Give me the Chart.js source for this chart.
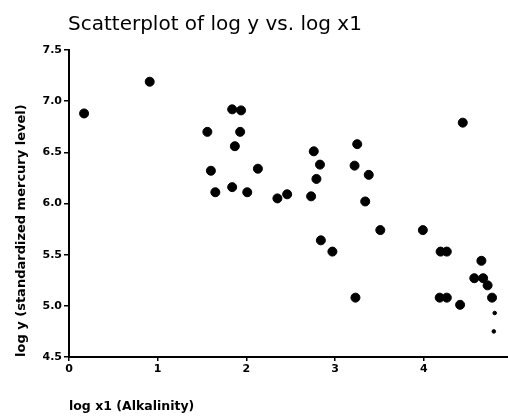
<!DOCTYPE html>
<html>
<head>
<meta charset="utf-8">
<script src="https://cdn.jsdelivr.net/npm/chart.js@4/dist/chart.umd.min.js"></script>
<style>
  html, body { margin: 0; padding: 0; background: #fff; overflow: hidden; }
  #wrap { width: 508px; height: 418px; }
</style>
</head>
<body>
<div id="wrap"><canvas id="scatterLogY"></canvas></div>
<script>
const titleText = 'Scatterplot of log y vs. log x1';
const xAxisLabel = 'log x1 (Alkalinity)';
const yAxisLabel = 'log y (standardized mercury level)';

const logX1 = [0.17, 0.91, 1.56, 1.84, 1.94, 1.93, 4.44, 1.87, 1.60, 1.65,
               1.84, 2.01, 2.13, 2.35, 2.46, 2.73, 2.76, 2.83, 2.79, 3.25,
               3.22, 3.38, 3.34, 2.84, 2.97, 3.51, 3.99, 4.19, 4.26, 4.65,
               4.57, 4.67, 4.72, 3.23, 4.18, 4.26, 4.41, 4.77];
const logY  = [6.88, 7.19, 6.70, 6.92, 6.91, 6.70, 6.79, 6.56, 6.32, 6.11,
               6.16, 6.11, 6.34, 6.05, 6.09, 6.07, 6.51, 6.38, 6.24, 6.58,
               6.37, 6.28, 6.02, 5.64, 5.53, 5.74, 5.74, 5.53, 5.53, 5.44,
               5.27, 5.27, 5.20, 5.08, 5.08, 5.08, 5.01, 5.08];

// two marks at the right edge that only printed partly
const edgeX = [4.80, 4.79];
const edgeY = [4.93, 4.75];

const xTicks = [0, 1, 2, 3, 4];
const yTicks = [4.5, 5.0, 5.5, 6.0, 6.5, 7.0, 7.5];
const yTickLabels = ['4.5', '5.0', '5.5', '6.0', '6.5', '7.0', '7.5'];

const toPoints = (xs, ys) => xs.map((x, i) => ({ x: x, y: ys[i] }));

// title sits left of centre, so it is drawn by hand
const titlePlugin = {
    id: 'leftTitle',
    afterDraw(chart) {
        const ctx = chart.ctx;
        ctx.save();
        ctx.font = '20px "DejaVu Sans"';
        ctx.fillStyle = '#000';
        ctx.textBaseline = 'alphabetic';
        ctx.textAlign = 'left';
        ctx.fillText(titleText, 68, 30);
        ctx.restore();
    }
};

const tickFont = { family: '"DejaVu Sans"', size: 11, weight: 'bold' };

new Chart(document.getElementById('scatterLogY'), {
    type: 'scatter',
    data: {
        datasets: [{
            data: toPoints(logX1, logY),
            backgroundColor: '#000',
            borderColor: '#000',
            pointRadius: 4.5,
            pointHoverRadius: 4.5
        }, {
            data: toPoints(edgeX, edgeY),
            backgroundColor: '#000',
            borderColor: '#000',
            pointRadius: 1.8,
            pointHoverRadius: 1.8
        }]
    },
    options: {
        responsive: true,
        maintainAspectRatio: false,
        animation: false,
        layout: {
            autoPadding: false,
            padding: { top: 50, left: 0, right: 0, bottom: 0 }
        },
        plugins: {
            legend: { display: false },
            tooltip: { enabled: false }
        },
        scales: {
            x: {
                type: 'linear',
                min: 0,
                max: 4.95,
                afterBuildTicks: s => { s.ticks = xTicks.map(v => ({ value: v })); },
                afterFit: s => { s.height = 61; },
                ticks: {
                    color: '#000',
                    font: tickFont,
                    padding: 2,
                    maxRotation: 0,
                    callback: v => String(v)
                },
                grid: {
                    drawOnChartArea: false,
                    drawTicks: true,
                    tickLength: 4,
                    color: '#000',
                    lineWidth: 1.5
                },
                border: { display: true, color: '#000', width: 2 },
                title: {
                    display: true,
                    text: xAxisLabel,
                    align: 'start',
                    color: '#000',
                    font: { family: '"DejaVu Sans"', size: 12.5, weight: 'bold' },
                    padding: { top: 0, bottom: 4 }
                }
            },
            y: {
                type: 'linear',
                min: 4.5,
                max: 7.5,
                afterBuildTicks: s => { s.ticks = yTicks.map(v => ({ value: v })); },
                afterFit: s => { s.width = 69; },
                ticks: {
                    color: '#000',
                    font: tickFont,
                    padding: 2,
                    callback: (v, i) => yTickLabels[i]
                },
                grid: {
                    drawOnChartArea: false,
                    drawTicks: true,
                    tickLength: 5,
                    color: '#000',
                    lineWidth: 1.5
                },
                border: { display: true, color: '#000', width: 2 },
                title: {
                    display: true,
                    text: yAxisLabel,
                    align: 'start',
                    color: '#000',
                    font: { family: '"DejaVu Sans"', size: 13, weight: 'bold' },
                    padding: { top: 14, bottom: 0 }
                }
            }
        }
    },
    plugins: [titlePlugin]
});
</script>
</body>
</html>
